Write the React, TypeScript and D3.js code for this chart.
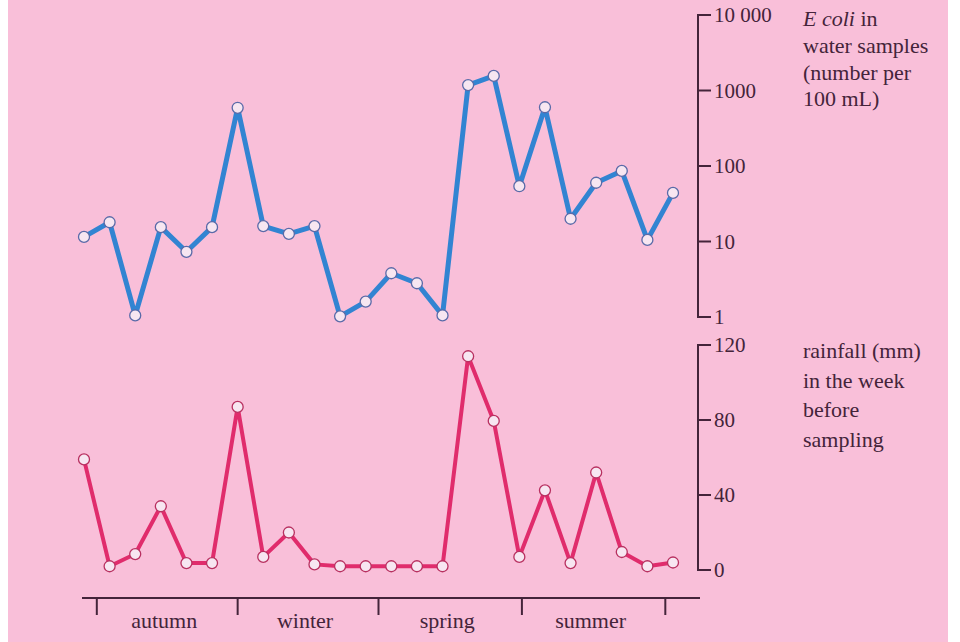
import React, { useEffect, useRef } from 'react';
import * as d3 from 'd3';

// E coli counts (number per 100 mL), one per weekly sample
const ecoli = [11.5, 18, 1.05, 15.5, 7.3, 15.5, 590, 16, 12.6, 16, 1.02, 1.6, 3.8, 2.8, 1.05, 1180, 1560, 54, 600, 20, 60, 86, 10.5, 44];
// rainfall (mm) in the week before sampling
const rainfall = [59, 2, 8.5, 34, 3.7, 3.7, 87, 7, 20, 3, 2, 2, 2, 2, 2, 114, 79.5, 7, 42.5, 3.7, 52, 9.6, 2, 4];

const seasons = ['autumn', 'winter', 'spring', 'summer'];
// season boundaries, in sample-index units
const seasonBreaks = [0.5, 6, 11.5, 17.1, 22.7];

const ecoliTicks = [1, 10, 100, 1000, 10000];
const ecoliTickLabels = ['1', '10', '100', '1000', '10 000'];
const rainTicks = [0, 40, 80, 120];

const ecoliLabel = ['water samples', '(number per', '100 mL)'];
const rainLabel = ['rainfall (mm)', 'in the week', 'before', 'sampling'];

const W = 960;
const H = 642;
const ink = '#44243a';
const font = '"Liberation Serif", "DejaVu Serif", serif';

function Chart() {
  const node = useRef<SVGSVGElement>(null);

  useEffect(() => {
    const svg = d3.select(node.current);
    svg.selectAll('*').remove();

    svg.append('rect').attr('width', W).attr('height', H).attr('fill', '#ffffff');
    svg.append('rect').attr('x', 8).attr('y', 0).attr('width', 940).attr('height', H).attr('fill', '#f9bfd9');

    const x = d3.scaleLinear().domain([0, ecoli.length - 1]).range([84, 673]);
    const yE = d3.scaleLog().domain([1, 10000]).range([317, 15]);
    const yR = d3.scaleLinear().domain([0, 120]).range([570, 345]);
    const axisX = 698;

    // vertical axes, ticks pointing right
    const drawAxis = (scale: any, ticks: number[], labels: string[]) => {
      const g = svg.append('g').attr('transform', `translate(${axisX},0)`);
      const [a, b] = scale.range();
      g.append('line').attr('y1', a + 1).attr('y2', b - 1).attr('stroke', ink).attr('stroke-width', 2);
      ticks.forEach((t, i) => {
        g.append('line').attr('x1', -1).attr('x2', 13).attr('y1', scale(t)).attr('y2', scale(t))
          .attr('stroke', ink).attr('stroke-width', 2);
        g.append('text').attr('x', 16).attr('y', scale(t)).attr('dy', '0.35em')
          .attr('font-family', font).attr('font-size', 21).attr('fill', ink).text(labels[i]);
      });
    };
    drawAxis(yE, ecoliTicks, ecoliTickLabels);
    drawAxis(yR, rainTicks, rainTicks.map(String));

    // axis titles
    const t1 = svg.append('text').attr('font-family', font).attr('font-size', 22).attr('fill', ink);
    t1.append('tspan').attr('x', 803).attr('y', 26).attr('font-style', 'italic').text('E coli');
    t1.append('tspan').text(' in');
    ecoliLabel.forEach((s, i) => {
      svg.append('text').attr('x', 803).attr('y', 53 + i * 26.5)
        .attr('font-family', font).attr('font-size', 22).attr('fill', ink).text(s);
    });
    rainLabel.forEach((s, i) => {
      svg.append('text').attr('x', 803).attr('y', 358 + i * 29.5)
        .attr('font-family', font).attr('font-size', 22).attr('fill', ink).text(s);
    });

    // season axis
    const yAxis = 598;
    svg.append('line').attr('x1', 82).attr('x2', axisX + 2).attr('y1', yAxis).attr('y2', yAxis)
      .attr('stroke', ink).attr('stroke-width', 2);
    seasonBreaks.forEach(b => {
      svg.append('line').attr('x1', x(b)).attr('x2', x(b)).attr('y1', yAxis).attr('y2', yAxis + 17)
        .attr('stroke', ink).attr('stroke-width', 2);
    });
    seasons.forEach((s, i) => {
      svg.append('text').attr('x', (x(seasonBreaks[i]) + x(seasonBreaks[i + 1])) / 2 - 3).attr('y', 628)
        .attr('text-anchor', 'middle').attr('font-family', font).attr('font-size', 22)
        .attr('fill', ink).text(s);
    });

    // series
    const series = [
      { data: ecoli, y: yE, color: '#3284d2', ring: '#5a6aa8', width: 5 },
      { data: rainfall, y: yR, color: '#e02c6c', ring: '#b83060', width: 4 },
    ];
    series.forEach(s => {
      const line = d3.line<number>().x((d, i) => x(i)).y(d => s.y(d));
      svg.append('path').attr('d', line(s.data)).attr('fill', 'none')
        .attr('stroke', s.color).attr('stroke-width', s.width).attr('stroke-linejoin', 'round');
      svg.selectAll(null).data(s.data).enter().append('circle')
        .attr('cx', (d, i) => x(i)).attr('cy', d => s.y(d)).attr('r', 5.5)
        .attr('fill', '#f7e6f1').attr('stroke', s.ring).attr('stroke-width', 1.3);
    });
  }, []);

  return <svg ref={node} width={W} height={H} style={{ position: 'absolute', left: 0, top: 0 }} />;
}

export default function App() {
  return <Chart />;
}
